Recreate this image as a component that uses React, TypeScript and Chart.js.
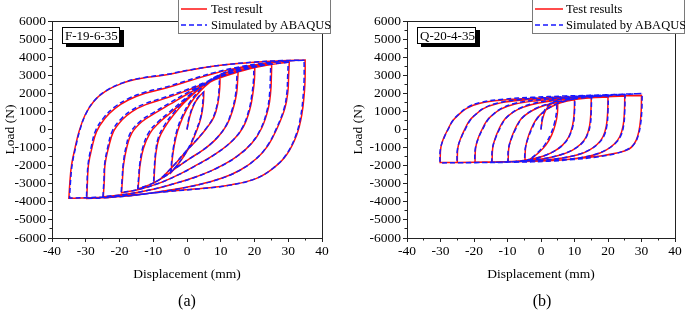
import React, { useEffect, useRef } from "react";
import { Chart, registerables } from "chart.js";

Chart.register(...registerables);

type P = [number, number];

// ---------- Panel (a): F-19-6-35, half-cycles [displacement mm, load N] ----------
const A_TEST: P[][] = [
  [[0, 0], [0.8, 700], [2, 1350], [3.5, 1800], [5, 2070]],
  [[5, 2070], [4.8, 1400], [4.2, 700], [3, 0], [1.2, -800], [-1, -1500], [-3, -2000], [-4.7, -2380]],
  [[-4.7, -2380], [-4.4, -1700], [-3.8, -900], [-2.8, -100], [-1.2, 700], [1, 1450], [4, 2150], [7, 2650], [9.8, 3010]],
  [[9.8, 3010], [9.7, 2300], [9.2, 1500], [8, 700], [5.8, 70], [2.9, -580], [0, -1150], [-3, -1800], [-6, -2400], [-8, -2750], [-9.8, -2950]],
  [[-9.8, -2950], [-9.6, -2200], [-9.2, -1300], [-8.3, -500], [-6.5, 150], [-4, 800], [-1, 1450], [3, 2150], [7, 2700], [11, 3100], [15.2, 3380]],
  [[15.2, 3380], [15, 2700], [14.7, 2000], [13.7, 1170], [11.8, 250], [8.8, -490], [4.8, -1130], [0.9, -1590], [-3, -2100], [-7, -2650], [-11, -3050], [-14.5, -3280]],
  [[-14.5, -3280], [-14.2, -2600], [-13.9, -1960], [-12.9, -1040], [-11, -210], [-8.5, 340], [-5, 900], [0, 1700], [5, 2450], [10, 3000], [15, 3350], [20.1, 3560]],
  [[20.1, 3560], [20, 2800], [19.6, 2100], [18.7, 1170], [16.7, 150], [13.7, -580], [8.8, -1310], [2.9, -1960], [-2, -2450], [-8, -2950], [-14, -3300], [-19.4, -3500]],
  [[-19.4, -3500], [-19.1, -2700], [-18.8, -1960], [-17.9, -1040], [-16.4, -210], [-13.4, 430], [-9.5, 900], [-5, 1400], [0, 1950], [5, 2450], [10, 2900], [15, 3250], [20, 3480], [25.1, 3650]],
  [[25.1, 3650], [25, 2900], [24.8, 2100], [24.1, 1170], [22.1, 70], [19.2, -760], [14.7, -1500], [8.8, -2140], [2.9, -2600], [-3, -2950], [-10, -3300], [-18, -3580], [-24.8, -3720]],
  [[-24.8, -3720], [-24.5, -2800], [-24.3, -1960], [-23.3, -1040], [-21.8, -120], [-19.3, 520], [-16.4, 980], [-12.4, 1360], [-6.5, 1720], [0, 2150], [6, 2600], [12, 3000], [18, 3330], [24, 3560], [30.3, 3730]],
  [[30.3, 3730], [30.1, 2900], [29.9, 2100], [29, 1170], [26.7, 70], [24.1, -860], [20.7, -1590], [15.8, -2240], [10.2, -2700], [2.9, -3070], [-5, -3350], [-15, -3620], [-25, -3780], [-29.7, -3820]],
  [[-29.7, -3820], [-29.5, -2900], [-29.2, -1960], [-28.2, -1040], [-26.8, -120], [-24.3, 620], [-21.3, 1170], [-17.4, 1630], [-12.4, 2000], [-6.5, 2280], [0, 2650], [8, 3100], [16, 3450], [24, 3680], [30, 3790], [35, 3840]],
  [[35, 3840], [35, 2900], [34.8, 2100], [34, 800], [32.5, -300], [29.5, -1400], [25.6, -2140], [20.6, -2700], [12.7, -3070], [4.8, -3250], [-6.5, -3430], [-15, -3600], [-25, -3740], [-35, -3800]],
  [[-35, -3800], [-34.7, -2900], [-34.2, -1960], [-33.2, -1040], [-32, -120], [-30.2, 800], [-27.7, 1540], [-24.3, 2090], [-19.3, 2550], [-13.4, 2830], [-6.5, 3010], [1, 3290], [10, 3550], [20, 3720], [28, 3800], [35, 3840]],
];

const A_SIM: P[][] = [
  [[0, 0], [0.6, 650], [1.8, 1300], [3.3, 1780], [4.8, 2040]],
  [[4.8, 2040], [4.6, 1350], [4, 650], [2.7, -50], [0.9, -850], [-1.3, -1550], [-3.2, -2030], [-4.8, -2360]],
  [[-4.8, -2360], [-4.5, -1650], [-3.9, -850], [-3, -50], [-1.4, 750], [0.8, 1500], [3.8, 2200], [6.8, 2680], [9.6, 2990]],
  [[9.6, 2990], [9.5, 2250], [9, 1450], [7.7, 650], [5.5, 20], [2.6, -620], [-0.3, -1200], [-3.3, -1850], [-6.2, -2430], [-8.2, -2770], [-9.9, -2940]],
  [[-9.9, -2940], [-9.7, -2150], [-9.3, -1250], [-8.5, -450], [-6.8, 200], [-4.3, 850], [-1.3, 1500], [2.7, 2200], [6.7, 2730], [10.7, 3120], [14.9, 3370]],
  [[14.9, 3370], [14.7, 2650], [14.4, 1950], [13.4, 1120], [11.5, 200], [8.5, -530], [4.5, -1170], [0.6, -1630], [-3.3, -2130], [-7.3, -2680], [-11.2, -3060], [-14.6, -3270]],
  [[-14.6, -3270], [-14.3, -2550], [-14, -1910], [-13.1, -990], [-11.3, -160], [-8.8, 390], [-5.3, 950], [-0.3, 1750], [4.7, 2490], [9.7, 3030], [14.7, 3370], [19.8, 3550]],
  [[19.8, 3550], [19.7, 2750], [19.3, 2050], [18.4, 1120], [16.4, 100], [13.4, -620], [8.5, -1350], [2.6, -2000], [-2.3, -2480], [-8.3, -2970], [-14.2, -3310], [-19.5, -3490]],
  [[-19.5, -3490], [-19.2, -2650], [-18.9, -1910], [-18.1, -990], [-16.7, -160], [-13.7, 480], [-9.8, 950], [-5.3, 1450], [-0.3, 2000], [4.7, 2490], [9.7, 2930], [14.7, 3270], [19.7, 3490], [24.8, 3650]],
  [[24.8, 3650], [24.7, 2850], [24.5, 2050], [23.8, 1120], [21.8, 20], [18.9, -800], [14.4, -1540], [8.5, -2170], [2.6, -2630], [-3.3, -2970], [-10.3, -3310], [-18.3, -3590], [-24.9, -3710]],
  [[-24.9, -3710], [-24.6, -2750], [-24.4, -1910], [-23.5, -990], [-22.1, -70], [-19.6, 570], [-16.7, 1030], [-12.7, 1410], [-6.8, 1770], [-0.3, 2190], [5.7, 2630], [11.7, 3030], [17.7, 3350], [23.7, 3580], [30, 3720]],
  [[30, 3720], [29.8, 2850], [29.6, 2050], [28.7, 1120], [26.4, 20], [23.8, -900], [20.4, -1630], [15.5, -2270], [9.9, -2720], [2.6, -3090], [-5.3, -3370], [-15.3, -3630], [-25.3, -3780], [-29.8, -3810]],
  [[-29.8, -3810], [-29.6, -2850], [-29.3, -1910], [-28.4, -990], [-27.1, -70], [-24.6, 670], [-21.6, 1220], [-17.7, 1680], [-12.7, 2050], [-6.8, 2320], [-0.3, 2690], [7.7, 3130], [15.7, 3470], [23.7, 3690], [29.7, 3790], [34.7, 3830]],
  [[34.7, 3830], [34.7, 2850], [34.5, 2050], [33.7, 750], [32.2, -350], [29.2, -1440], [25.3, -2170], [20.3, -2720], [12.4, -3090], [4.5, -3270], [-6.8, -3450], [-15.3, -3610], [-25.3, -3740], [-34.8, -3790]],
  [[-34.8, -3790], [-34.5, -2850], [-34, -1910], [-33, -990], [-31.8, -70], [-30, 850], [-27.5, 1590], [-24.1, 2130], [-19.1, 2580], [-13.2, 2860], [-6.3, 3040], [1.2, 3310], [10.2, 3560], [20.2, 3730], [28.2, 3810], [34.8, 3830]],
];

// ---------- Panel (b): Q-20-4-35 ----------
const B_TEST: P[][] = [
  [[0, 0], [0.5, 600], [1.5, 1100], [3, 1400], [5, 1560]],
  [[5, 1560], [4.9, 900], [4.3, 300], [3.2, -300], [1.5, -850], [-0.8, -1300], [-2.8, -1580], [-4.8, -1730]],
  [[-4.8, -1730], [-4.6, -1000], [-3.9, -450], [-3, 0], [-1.8, 450], [-0.4, 780], [1.8, 1120], [4.5, 1380], [7.5, 1560], [10, 1650]],
  [[10, 1650], [9.9, 900], [9.4, 200], [8.3, -400], [6.5, -850], [4, -1200], [0.8, -1470], [-3, -1650], [-6.5, -1740], [-9.8, -1780]],
  [[-9.8, -1780], [-9.6, -1000], [-8.8, -450], [-7.8, 0], [-6.5, 450], [-5, 750], [-2.3, 1080], [1.5, 1350], [6, 1530], [10.5, 1670], [15, 1750]],
  [[15, 1750], [14.9, 1000], [14.5, 200], [13.5, -400], [11.8, -820], [9.3, -1150], [6, -1400], [2, -1580], [-3, -1700], [-9, -1770], [-14.6, -1800]],
  [[-14.6, -1800], [-14.4, -1000], [-13.6, -450], [-12.6, 0], [-11.3, 450], [-9.8, 750], [-7, 1100], [-3, 1370], [2, 1550], [10, 1700], [20, 1800]],
  [[20, 1800], [19.9, 1000], [19.5, 200], [18.5, -400], [16.8, -820], [14.3, -1150], [11, -1400], [6.5, -1580], [0, -1710], [-7, -1770], [-14, -1795], [-19.7, -1810]],
  [[-19.7, -1810], [-19.5, -1000], [-18.7, -450], [-17.6, 0], [-16.3, 450], [-14.8, 750], [-12, 1130], [-8, 1400], [-2, 1580], [5, 1680], [15, 1780], [25, 1850]],
  [[25, 1850], [24.9, 1000], [24.5, 200], [23.5, -400], [21.8, -820], [19.3, -1150], [16, -1400], [11.5, -1580], [5, -1700], [-3, -1760], [-14, -1800], [-25, -1820]],
  [[-25, -1820], [-24.8, -1000], [-23.9, -450], [-22.8, 0], [-21.5, 450], [-20, 750], [-17.2, 1150], [-13.2, 1420], [-7, 1600], [0, 1700], [10, 1780], [20, 1840], [30, 1880]],
  [[30, 1880], [29.9, 1000], [29.5, 200], [28.8, -400], [27.8, -800], [26.3, -1080], [22.6, -1300], [17, -1480], [10, -1620], [3, -1720], [-8, -1790], [-20, -1815], [-30.1, -1830]],
  [[-30.1, -1830], [-29.9, -1000], [-29, -450], [-27.8, 0], [-26.5, 450], [-25, 750], [-22.2, 1170], [-18.2, 1450], [-11.3, 1630], [-3, 1720], [6.6, 1790], [18, 1840], [30, 1880]],
];

const B_SIM: P[][] = [
  [[0, 0], [0.4, 650], [1.3, 1150], [2.8, 1450], [4.7, 1600]],
  [[4.7, 1600], [4.6, 950], [4, 350], [2.9, -250], [1.2, -820], [-1.1, -1300], [-3, -1600], [-4.9, -1760]],
  [[-4.9, -1760], [-4.7, -1050], [-3.7, -400], [-2.7, 50], [-1.5, 500], [-0.1, 830], [2.1, 1170], [4.8, 1430], [7.8, 1610], [10.1, 1700]],
  [[10.1, 1700], [10, 950], [9.6, 250], [8.5, -350], [6.8, -800], [4.3, -1150], [1.1, -1440], [-2.7, -1640], [-6.3, -1750], [-9.9, -1800]],
  [[-9.9, -1800], [-9.7, -1050], [-8.6, -400], [-7.5, 50], [-6.2, 500], [-4.7, 800], [-2, 1130], [1.8, 1400], [6.3, 1580], [10.8, 1720], [15.1, 1800]],
  [[15.1, 1800], [15, 1050], [14.7, 250], [13.7, -350], [12.1, -780], [9.6, -1110], [6.3, -1370], [2.3, -1560], [-2.7, -1700], [-8.7, -1780], [-14.7, -1820]],
  [[-14.7, -1820], [-14.5, -1050], [-13.4, -400], [-12.3, 50], [-11, 500], [-9.5, 800], [-6.7, 1150], [-2.7, 1420], [2.3, 1600], [10.3, 1750], [20.1, 1860]],
  [[20.1, 1860], [20, 1050], [19.7, 250], [18.8, -350], [17.1, -780], [14.6, -1110], [11.3, -1370], [6.8, -1560], [0.3, -1700], [-6.7, -1770], [-13.7, -1810], [-19.8, -1830]],
  [[-19.8, -1830], [-19.6, -1050], [-18.5, -400], [-17.3, 50], [-16, 500], [-14.5, 800], [-11.7, 1180], [-7.7, 1450], [-1.7, 1630], [5.3, 1730], [15.3, 1840], [25.1, 1920]],
  [[25.1, 1920], [25, 1050], [24.7, 250], [23.8, -350], [22.1, -780], [19.6, -1110], [16.3, -1370], [11.8, -1560], [5.3, -1690], [-2.7, -1770], [-13.7, -1820], [-25.1, -1840]],
  [[-25.1, -1840], [-24.9, -1050], [-23.7, -400], [-22.5, 50], [-21.2, 500], [-19.7, 800], [-16.9, 1200], [-12.9, 1470], [-6.7, 1650], [0.3, 1750], [10.3, 1840], [20.3, 1910], [30.2, 1990]],
  [[30.2, 1990], [30.1, 1050], [29.7, 250], [29, -350], [28, -750], [26.3, -1050], [22.3, -1330], [16.7, -1520], [9.7, -1660], [2.7, -1750], [-8.3, -1810], [-20.3, -1830], [-30.2, -1850]],
  [[-30.2, -1850], [-30, -1050], [-28.8, -400], [-27.6, 50], [-26.3, 500], [-24.8, 800], [-22, 1220], [-18, 1500], [-11.1, 1680], [-2.7, 1780], [6.9, 1850], [18.3, 1910], [30.2, 1990]],
];

const X_TICKS = [-40, -30, -20, -10, 0, 10, 20, 30, 40];
const X_MINOR = [-35, -25, -15, -5, 5, 15, 25, 35];
const Y_TICKS = [-6000, -5000, -4000, -3000, -2000, -1000, 0, 1000, 2000, 3000, 4000, 5000, 6000];
const Y_MINOR = [-5500, -4500, -3500, -2500, -1500, -500, 500, 1500, 2500, 3500, 4500, 5500];
const X_TITLE = "Displacement (mm)";
const Y_TITLE = "Load (N)";
const LEGEND_A = ["Test result", "Simulated by ABAQUS"];
const LEGEND_B = ["Test results", "Simulated by ABAQUS"];
const LABEL_A = "F-19-6-35";
const LABEL_B = "Q-20-4-35";
const CAPTION_A = "(a)";
const CAPTION_B = "(b)";

const SERIF = "'Liberation Serif', 'Times New Roman', serif";
const RED = "#ff1010";
const BLUE = "#1818ff";
const AXIS = "#222";

const toPts = (halves: P[][]) => halves.flat().map(([x, y]) => ({ x, y }));

const align = (v: number) => Math.round(v - 0.5) + 0.5;

const framePlugin = {
  id: "frameMinor",
  afterDraw(chart: any) {
    const { ctx, chartArea: ca, scales } = chart;
    ctx.save();
    ctx.strokeStyle = AXIS;
    ctx.lineWidth = 1;
    ctx.beginPath();
    const t = align(ca.top);
    const r = align(ca.right);
    ctx.moveTo(align(ca.left), t);
    ctx.lineTo(r, t);
    ctx.lineTo(r, align(ca.bottom));
    for (const v of X_MINOR) {
      const px = align(scales.x.getPixelForValue(v));
      ctx.moveTo(px, ca.bottom);
      ctx.lineTo(px, ca.bottom + 2.5);
    }
    for (const v of Y_MINOR) {
      const py = align(scales.y.getPixelForValue(v));
      ctx.moveTo(ca.left, py);
      ctx.lineTo(ca.left - 2.5, py);
    }
    ctx.stroke();
    ctx.restore();
  },
};

type PanelProps = {
  test: P[][];
  sim: P[][];
  legend: string[];
  width: number;
  yWidth: number;
  padRight: number;
  yTitlePad: number;
};

function PanelChart({ test, sim, legend, width, yWidth, padRight, yTitlePad }: PanelProps) {
  const ref = useRef<HTMLCanvasElement | null>(null);
  useEffect(() => {
    if (!ref.current) return;
    const font = { family: SERIF, size: 13.5 };
    const chart = new Chart(ref.current, {
      type: "scatter",
      data: {
        datasets: [
          {
            label: legend[0],
            data: toPts(test),
            showLine: true,
            borderColor: RED,
            backgroundColor: RED,
            borderWidth: 1.5,
            pointRadius: 0,
            tension: 0.4,
            order: 1,
          },
          {
            label: legend[1],
            data: toPts(sim),
            showLine: true,
            borderColor: BLUE,
            backgroundColor: BLUE,
            borderWidth: 1.5,
            borderDash: [5, 3],
            pointRadius: 0,
            tension: 0.4,
            order: 0,
          },
        ],
      },
      options: {
        animation: false,
        responsive: false,
        events: [],
        layout: { padding: { left: 0, right: padRight, top: 21, bottom: 0 } },
        plugins: { legend: { display: false }, tooltip: { enabled: false } },
        scales: {
          x: {
            type: "linear",
            min: -40,
            max: 40,
            afterBuildTicks: (s: any) => {
              s.ticks = X_TICKS.map((v) => ({ value: v }));
            },
            afterFit: (s: any) => {
              s.height = 72;
            },
            ticks: { font, color: "#000", padding: 1, maxRotation: 0, autoSkip: false, callback: (v: any) => String(v) },
            grid: { drawOnChartArea: false, tickLength: 4, color: AXIS },
            border: { color: AXIS, width: 1 },
            title: { display: true, text: X_TITLE, font, color: "#000", padding: { top: 0, bottom: 27 } },
          },
          y: {
            type: "linear",
            min: -6000,
            max: 6000,
            afterBuildTicks: (s: any) => {
              s.ticks = Y_TICKS.map((v) => ({ value: v }));
            },
            afterFit: (s: any) => {
              s.width = yWidth;
            },
            ticks: { font, color: "#000", padding: 2, autoSkip: false, callback: (v: any) => String(v) },
            grid: { drawOnChartArea: false, tickLength: 4, color: AXIS },
            border: { color: AXIS, width: 1 },
            title: { display: true, text: Y_TITLE, font, color: "#000", padding: { top: yTitlePad, bottom: 0 } },
          },
        },
      },
      plugins: [framePlugin],
    } as any);
    return () => chart.destroy();
  }, []);
  return <canvas ref={ref} width={width} height={310} style={{ display: "block" }} />;
}

function Legend({ left, width, labels, lineX0, lineX1, textX }: { left: number; width: number; labels: string[]; lineX0: number; lineX1: number; textX: number }) {
  return (
    <div
      style={{
        position: "absolute",
        left,
        top: -1,
        width,
        height: 33,
        border: "1px solid #7a7a7a",
        background: "#fff",
        fontFamily: SERIF,
        fontSize: 12.5,
        color: "#000",
        zIndex: 3,
      }}
    >
      <svg width={width} height={33} style={{ position: "absolute", left: 0, top: 0 }}>
        <line x1={lineX0} x2={lineX1} y1={9} y2={9} stroke={RED} strokeWidth={1.5} />
        <line x1={lineX0} x2={lineX1} y1={25} y2={25} stroke={BLUE} strokeWidth={1.5} strokeDasharray="5 3" />
      </svg>
      <span style={{ position: "absolute", left: textX, top: 1.5, lineHeight: "14px", whiteSpace: "nowrap" }}>{labels[0]}</span>
      <span style={{ position: "absolute", left: textX, top: 17.5, lineHeight: "14px", whiteSpace: "nowrap" }}>{labels[1]}</span>
    </div>
  );
}

function Tag({ left, width, text }: { left: number; width: number; text: string }) {
  return (
    <div
      style={{
        position: "absolute",
        left,
        top: 27,
        width,
        height: 15,
        border: "1px solid #000",
        background: "#fff",
        boxShadow: "4px 3px 0 #000",
        fontFamily: SERIF,
        fontSize: 13,
        lineHeight: "15px",
        color: "#000",
        paddingLeft: 2,
        boxSizing: "content-box",
        whiteSpace: "nowrap",
        zIndex: 2,
      }}
    >
      {text}
    </div>
  );
}

function Caption({ cx, text }: { cx: number; text: string }) {
  return (
    <div
      style={{
        position: "absolute",
        left: cx - 20,
        width: 40,
        top: 291,
        textAlign: "center",
        fontFamily: SERIF,
        fontSize: 16,
        lineHeight: "20px",
        color: "#000",
        zIndex: 2,
      }}
    >
      {text}
    </div>
  );
}

export default function App() {
  useEffect(() => {
    document.body.style.margin = "0";
    document.body.style.background = "#fff";
  }, []);
  return (
    <div style={{ position: "relative", width: 685, height: 310, overflow: "hidden", background: "#fff" }}>
      <div style={{ position: "absolute", left: 0, top: 0 }}>
        <PanelChart test={A_TEST} sim={A_SIM} legend={LEGEND_A} width={342} yWidth={52} padRight={20} yTitlePad={2} />
      </div>
      <div style={{ position: "absolute", left: 342, top: 0 }}>
        <PanelChart test={B_TEST} sim={B_SIM} legend={LEGEND_B} width={343} yWidth={65} padRight={10} yTitlePad={8} />
      </div>
      <Legend left={178} width={151} labels={LEGEND_A} lineX0={2} lineX1={28} textX={32} />
      <Legend left={532} width={151} labels={LEGEND_B} lineX0={2} lineX1={30} textX={33} />
      <Tag left={62} width={54} text={LABEL_A} />
      <Tag left={417} width={55} text={LABEL_B} />
      <Caption cx={187} text={CAPTION_A} />
      <Caption cx={542} text={CAPTION_B} />
    </div>
  );
}
